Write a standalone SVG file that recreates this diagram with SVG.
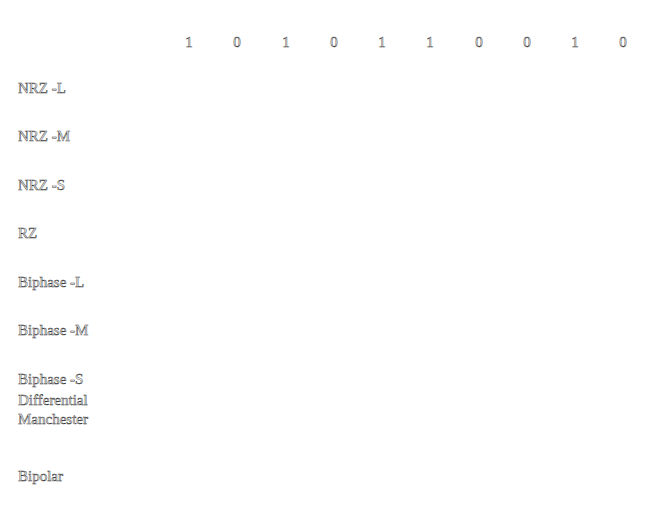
<svg xmlns="http://www.w3.org/2000/svg" width="664" height="525" viewBox="0 0 664 525">
<style>
text{font-family:"Liberation Serif","Times New Roman",serif;font-size:15px;fill:#ffffff;stroke:#3a3a3a;stroke-width:0.5px}
.bit{text-anchor:middle}
</style>
<rect width="664" height="525" fill="#ffffff"/>
<g id="bits">
<text class="bit" x="189" y="47">1</text>
<text class="bit" x="237" y="47">0</text>
<text class="bit" x="286" y="47">1</text>
<text class="bit" x="334" y="47">0</text>
<text class="bit" x="382" y="47">1</text>
<text class="bit" x="430" y="47">1</text>
<text class="bit" x="479" y="47">0</text>
<text class="bit" x="527" y="47">0</text>
<text class="bit" x="575" y="47">1</text>
<text class="bit" x="623" y="47">0</text>
</g>
<g id="labels">
<text x="18" y="93">NRZ -L</text>
<text x="18" y="141">NRZ -M</text>
<text x="18" y="190">NRZ -S</text>
<text x="18" y="238">RZ</text>
<text x="18" y="287">Biphase -L</text>
<text x="18" y="335">Biphase -M</text>
<text x="18" y="384">Biphase -S</text>
<text x="18" y="405">Differential</text>
<text x="18" y="424">Manchester</text>
<text x="18" y="481">Bipolar</text>
</g>
</svg>
